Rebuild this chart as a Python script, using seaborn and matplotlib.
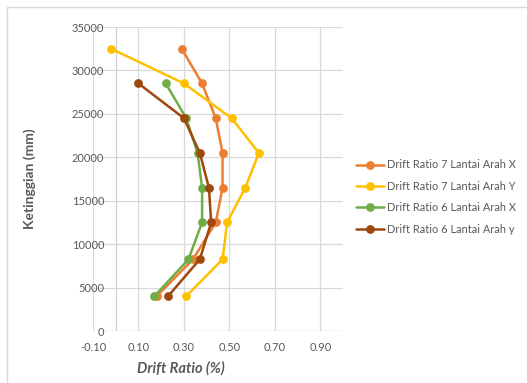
import matplotlib
matplotlib.use("Agg")
import matplotlib.pyplot as plt
from matplotlib.patches import Rectangle
from matplotlib.lines import Line2D
import seaborn as sns
import pandas as pd

heights_7 = [4000, 8250, 12500, 16500, 20500, 24500, 28500, 32500]
heights_6 = [4000, 8250, 12500, 16500, 20500, 24500, 28500]
dr_7x = [0.18, 0.34, 0.44, 0.47, 0.47, 0.44, 0.38, 0.29]
dr_7y = [0.31, 0.47, 0.49, 0.57, 0.63, 0.51, 0.30, -0.02]
dr_6x = [0.17, 0.32, 0.38, 0.38, 0.36, 0.31, 0.22]
dr_6y = [0.23, 0.37, 0.42, 0.41, 0.37, 0.30, 0.10]
series_names = ["Drift Ratio 7 Lantai Arah X", "Drift Ratio 7 Lantai Arah Y",
                "Drift Ratio 6 Lantai Arah X", "Drift Ratio 6 Lantai Arah y"]
colors = ["#ED7D31", "#FFC000", "#70AD47", "#9E480E"]
x_ticks = [-0.10, 0.10, 0.30, 0.50, 0.70, 0.90]
y_ticks = [0, 5000, 10000, 15000, 20000, 25000, 30000, 35000]

rows = []
for name, xs, hs in zip(series_names, [dr_7x, dr_7y, dr_6x, dr_6y],
                        [heights_7, heights_7, heights_6, heights_6]):
    for i, (x, h) in enumerate(zip(xs, hs)):
        rows.append({"series": name, "drift": x, "h": h, "order": i})
df = pd.DataFrame(rows)

sns.set_theme(style="white")
plt.rcParams["font.family"] = ["Lato", "DejaVu Sans"]

fig = plt.figure(figsize=(5.27, 3.83), dpi=100)
W, H = 527, 383
ax = fig.add_axes([93 / W, 1 - 331 / H, (343 - 93) / W, (331 - 27) / H])

# border of the chart area
fig.patches.append(Rectangle((7 / W, -0.1), 1.2, 1 - 7 / H + 0.1, transform=fig.transFigure,
                             fill=False, edgecolor="#D9D9D9", lw=1.0, zorder=0))

for xv in x_ticks:
    ax.axvline(xv, color="#D9D9D9", lw=0.9, zorder=0)
for yv in y_ticks[1:]:
    ax.axhline(yv, color="#D9D9D9", lw=0.9, zorder=0)
ax.axvline(0, color="#D0D0D0", lw=0.9, zorder=0)
ax.axhline(0, color="#BFBFBF", lw=0.9, zorder=0)

sns.lineplot(data=df, x="drift", y="h", hue="series", hue_order=series_names,
             palette=colors, sort=False, estimator=None, units="series",
             marker="o", markersize=6.3, markeredgewidth=0, linewidth=1.8, ax=ax,
             legend=False)

ax.set_xlim(-0.10, 1.00)
ax.set_ylim(0, 35000)
ax.set_xticks(x_ticks)
ax.set_xticklabels([f"{v:.2f}" for v in x_ticks])
ax.set_yticks(y_ticks)
ax.set_yticklabels([str(v) for v in y_ticks])
for s in ax.spines.values():
    s.set_visible(False)
ax.tick_params(axis="both", length=0, labelsize=8, labelcolor="#595959")
ax.tick_params(axis="y", pad=-8)
ax.tick_params(axis="x", pad=8)

ax.set_xlabel("Drift Ratio (%)", fontsize=10.5, fontweight="bold", fontstyle="italic",
              color="#595959")
ax.xaxis.set_label_coords((181 - 93) / 250, -(361 - 331) / 304)
ax.set_ylabel("Ketinggian (mm)", fontsize=10, fontweight="bold", color="#595959")
ax.yaxis.set_label_coords(-0.228, 0.5)

handles = [Line2D([0], [0], color=c, lw=1.8, marker="o", markersize=6.3, markeredgewidth=0)
           for c in colors]
fig.legend(handles, series_names, loc="center left",
           bbox_to_anchor=(352 / W, 1 - 197 / H), frameon=False, fontsize=7.9,
           labelcolor="#595959", handlelength=2.5, handletextpad=0.3,
           labelspacing=0.95, borderaxespad=0)

fig.savefig("out.png", dpi=100)
